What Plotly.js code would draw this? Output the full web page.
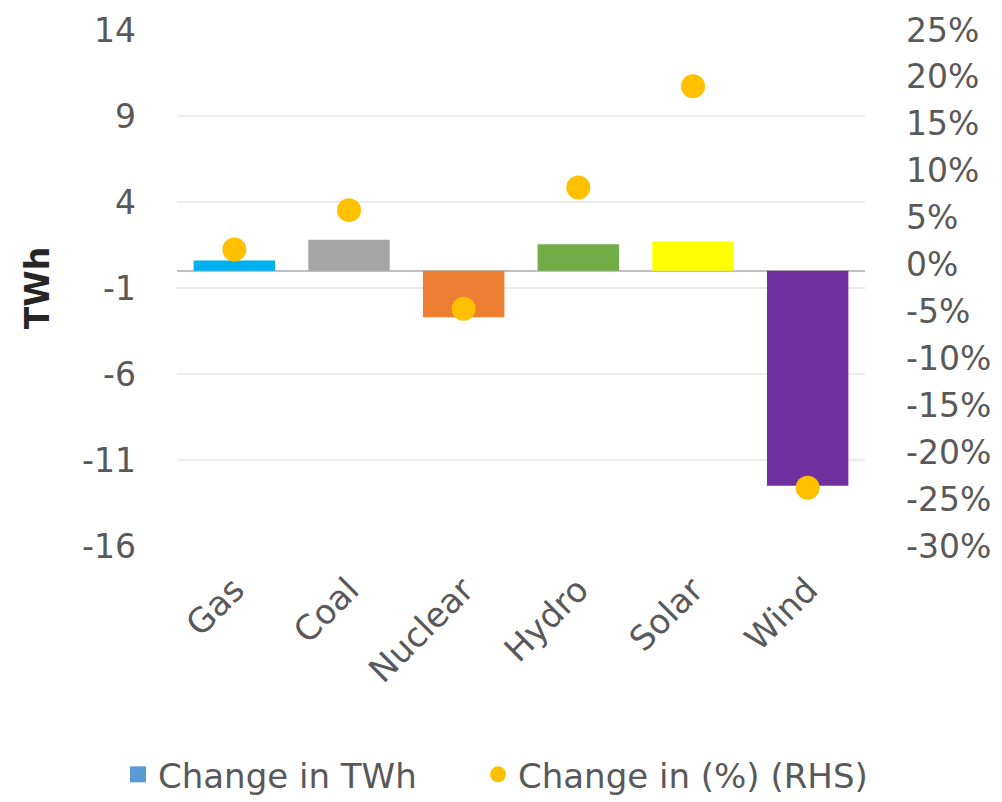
<!DOCTYPE html>
<html><head><meta charset="utf-8">
<script src="https://cdn.plot.ly/plotly-3.0.1.min.js"></script>
<style>html,body{margin:0;padding:0;background:#fff}</style>
</head><body>
<div id="chart" style="width:1002px;height:802px"></div>
<script>
const categories = ["Gas", "Coal", "Nuclear", "Hydro", "Solar", "Wind"];
const changeTWh = [0.6, 1.8, -2.7, 1.55, 1.7, -12.5];
const changePct = [1.6, 5.8, -4.7, 8.2, 19.0, -23.8];
const barColors = ["#00B0F0", "#A5A5A5", "#ED7D31", "#70AD47", "#FFFF00", "#7030A0"];
const leftTicks = [-16, -11, -6, -1, 4, 9, 14];
const rightTicks = [-30, -25, -20, -15, -10, -5, 0, 5, 10, 15, 20, 25];

const FONT = "DejaVu Sans";
const GRAY = "#595959";

const traces = [
  {type: "bar", x: categories, y: changeTWh, marker: {color: barColors}, showlegend: false, yaxis: "y", hoverinfo: "skip"},
  {type: "scatter", mode: "markers", x: [null], y: [null], name: "Change in TWh",
   marker: {symbol: "square", color: "#5B9BD5", size: 18}, yaxis: "y", legend: "legend"},
  {type: "scatter", mode: "markers", x: categories, y: changePct, name: "Change in (%) (RHS)",
   marker: {color: "#FFC000", size: 24}, yaxis: "y2", cliponaxis: false, legend: "legend2"}
];

const legendBase = {orientation: "h", xref: "container", yref: "container", xanchor: "left",
  y: 0.034, yanchor: "middle", font: {family: FONT, size: 34, color: GRAY}, itemwidth: 30};

const layout = {
  width: 1002, height: 802,
  margin: {l: 177, r: 137, t: 30, b: 256},
  paper_bgcolor: "#fff", plot_bgcolor: "#fff",
  font: {family: FONT, size: 33, color: GRAY},
  bargap: 0.29,
  xaxis: {type: "category", tickangle: -45, showgrid: false, zeroline: false, showline: false,
          ticks: "", ticklabelstandoff: 16, tickfont: {family: FONT, size: 34, color: GRAY}},
  yaxis: {range: [-16, 14], tickmode: "array", tickvals: leftTicks, ticktext: leftTicks.map(v => String(v)),
          showgrid: true, gridcolor: "#EBEBEB", gridwidth: 1.2,
          zeroline: true, zerolinecolor: "#BFBFBF", zerolinewidth: 2, showline: false, ticks: "",
          ticklabelstandoff: 40,
          title: {text: "TWh", standoff: 22, font: {family: FONT, size: 33, color: "#262626", weight: "bold"}}},
  yaxis2: {range: [-30, 25], tickmode: "array", tickvals: rightTicks, ticktext: rightTicks.map(v => v + "%"),
           overlaying: "y", side: "right",
           showgrid: false, zeroline: false, showline: false, ticks: "", ticklabelstandoff: 40},
  legend: Object.assign({}, legendBase, {x: 118 / 1002}),
  legend2: Object.assign({}, legendBase, {x: 478 / 1002}),
  showlegend: true
};

Plotly.newPlot("chart", traces, layout, {displayModeBar: false, staticPlot: true});
</script>
</body></html>
